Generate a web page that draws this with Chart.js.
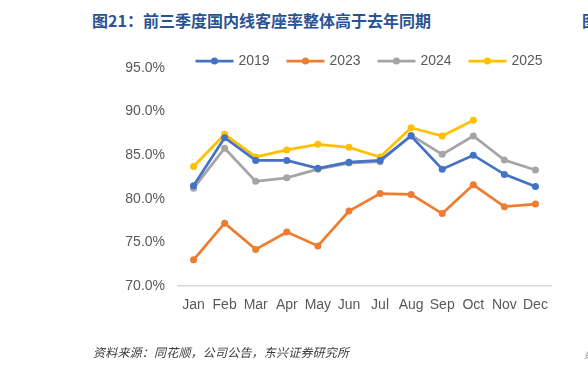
<!DOCTYPE html>
<html>
<head>
<meta charset="utf-8">
<script src="https://cdn.jsdelivr.net/npm/chart.js@4"></script>
<style>
  html, body { margin: 0; padding: 0; background: #fff; }
  body { width: 588px; height: 367px; position: relative; overflow: hidden; }
  #chart { position: absolute; left: 0; top: 0; }
  .title { position: absolute; top: 9px; left: 92px; font: bold 16px "Noto Sans CJK SC", sans-serif; color: #2a5394; white-space: nowrap; line-height: 22px; }
  .title.cut { left: 582px; }
  .source { position: absolute; top: 343px; left: 93px; font: italic 12px "Noto Sans CJK SC", sans-serif; color: #3a3a3a; white-space: nowrap; line-height: 18px; letter-spacing: 0.2px; }
  .source.cut { left: 584px; font-size: 8px; color: #777; top: 346px; }
</style>
</head>
<body>
<div class="title">图21：前三季度国内线客座率整体高于去年同期</div>
<div class="title cut">图</div>
<canvas id="chart" width="588" height="367"></canvas>
<div class="source">资料来源：同花顺，公司公告，东兴证券研究所</div>
<div class="source cut">资</div>
<script>
const months = ['Jan', 'Feb', 'Mar', 'Apr', 'May', 'Jun', 'Jul', 'Aug', 'Sep', 'Oct', 'Nov', 'Dec'];
const yearLabels = ['2019', '2023', '2024', '2025'];
const lineColors = ['#4472C4', '#ED7D31', '#A5A5A5', '#FFC000'];

// 客座率 (%)
const load2019 = [81.5, 87.0, 84.4, 84.4, 83.5, 84.2, 84.4, 87.2, 83.4, 85.0, 82.8, 81.4];
const load2023 = [73.0, 77.2, 74.2, 76.2, 74.6, 78.6, 80.6, 80.5, 78.3, 81.6, 79.1, 79.4];
const load2024 = [81.2, 85.8, 82.0, 82.4, 83.4, 84.1, 84.25, 87.3, 85.1, 87.2, 84.45, 83.3];
const load2025 = [83.7, 87.4, 84.8, 85.6, 86.25, 85.9, 84.8, 88.15, 87.2, 89.0, null, null];

const yTicks = [70, 75, 80, 85, 90, 95];

const series = [load2019, load2023, load2024, load2025];
const datasets = series.map((vals, i) => ({
  label: yearLabels[i],
  data: vals,
  borderColor: lineColors[i],
  backgroundColor: lineColors[i],
  pointBackgroundColor: lineColors[i],
  pointBorderColor: lineColors[i],
  borderWidth: 2.75,
  pointRadius: 3.5,
  pointBorderWidth: 0,
  tension: 0,
  spanGaps: false
}));

// legend: line with dot, centred over the plot
const lineLegend = {
  id: 'lineLegend',
  afterDraw(chart) {
    const ctx = chart.ctx;
    const area = chart.chartArea;
    const step = 91;
    const total = step * (yearLabels.length - 1) + 73;
    let x = (area.left + area.right) / 2 - total / 2 + 4;
    const y = 61;
    ctx.save();
    ctx.font = '14px "Liberation Sans", Arial, sans-serif';
    ctx.textBaseline = 'middle';
    chart.data.datasets.forEach(ds => {
      ctx.strokeStyle = ds.borderColor;
      ctx.lineWidth = 2.75;
      ctx.beginPath();
      ctx.moveTo(x, y);
      ctx.lineTo(x + 38, y);
      ctx.stroke();
      ctx.fillStyle = ds.borderColor;
      ctx.beginPath();
      ctx.arc(x + 19, y, 3.5, 0, Math.PI * 2);
      ctx.fill();
      ctx.fillStyle = '#595959';
      ctx.fillText(ds.label, x + 43, y + 0.5);
      x += step;
    });
    ctx.restore();
  }
};

new Chart(document.getElementById('chart'), {
  type: 'line',
  data: { labels: months, datasets: datasets },
  plugins: [lineLegend],
  options: {
    responsive: false,
    animation: false,
    layout: { padding: { top: 68, right: 37, bottom: 51, left: 0 } },
    plugins: {
      legend: { display: false },
      tooltip: { enabled: false }
    },
    scales: {
      x: {
        offset: true,
        grid: { display: false, drawTicks: false },
        border: { display: true, color: '#d9d9d9', width: 1.5 },
        ticks: {
          color: '#595959',
          font: { family: '"Liberation Sans", Arial, sans-serif', size: 14 },
          padding: 11,
          maxRotation: 0,
          autoSkip: false
        },
        afterFit: s => { s.height = 30; }
      },
      y: {
        min: 70,
        max: 95,
        afterBuildTicks: s => { s.ticks = yTicks.map(v => ({ value: v })); },
        grid: { display: false, drawTicks: false },
        border: { display: false },
        ticks: {
          color: '#595959',
          font: { family: '"Liberation Sans", Arial, sans-serif', size: 14 },
          padding: 13,
          callback: v => v.toFixed(1) + '%'
        },
        afterFit: s => { s.width = 178; }
      }
    }
  }
});
</script>
</body>
</html>
